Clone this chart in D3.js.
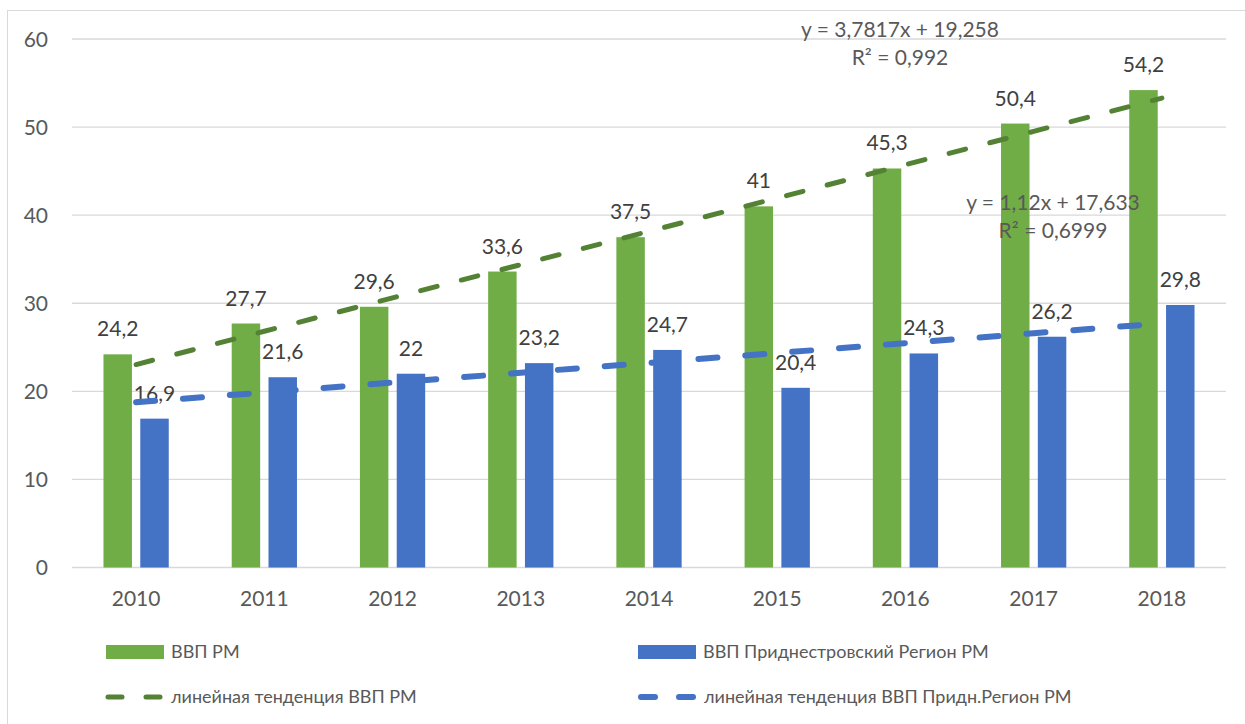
<!DOCTYPE html>
<html>
<head>
<meta charset="utf-8">
<script src="https://cdn.jsdelivr.net/npm/d3@7"></script>
<style>
  body { margin: 0; background: #fff; }
  text { font-family: Lato, "Open Sans", sans-serif; }
</style>
</head>
<body>
<script>
// data
var years = ['2010', '2011', '2012', '2013', '2014', '2015', '2016', '2017', '2018'];
var gdpRM = [24.2, 27.7, 29.6, 33.6, 37.5, 41, 45.3, 50.4, 54.2];
var gdpPMR = [16.9, 21.6, 22, 23.2, 24.7, 20.4, 24.3, 26.2, 29.8];
var yTicks = [0, 10, 20, 30, 40, 50, 60];
// trend coefficients as printed on the chart
var trendRM = {slope: 3.7817, icept: 19.258, eq: 'y = 3,7817x + 19,258', r2: 'R² = 0,992'};
var trendPMR = {slope: 1.12, icept: 17.633, eq: 'y = 1,12x + 17,633', r2: 'R² = 0,6999'};
var legendNames = ['ВВП РМ', 'ВВП Приднестровский Регион РМ',
  'линейная тенденция ВВП РМ', 'линейная тенденция ВВП Придн.Регион РМ'];

var green = '#70ad47', blue = '#4472c4', trendGreen = '#548235';
var W = 1245, H = 724;
var plotL = 72, plotR = 1226, plotT = 39, plotB = 567.5;
var numSize = 21;

var svg = d3.select('body').append('svg')
  .attr('width', W)
  .attr('height', H);

svg.append('rect')
  .attr('x', 7.5).attr('y', 10.5)
  .attr('width', W + 20).attr('height', H + 20)
  .attr('fill', 'white')
  .attr('stroke', '#d9d9d9');

var x = d3.scaleBand().domain(years).range([plotL, plotR]).padding(0);
var y = d3.scaleLinear().domain([0, 60]).range([plotB, plotT]);

var step = x.bandwidth();
var barW = step * 0.222;
var gap = step * 0.065;

// gridlines
svg.selectAll('line.grid')
  .data(yTicks)
  .enter().append('line')
  .attr('class', 'grid')
  .attr('x1', plotL).attr('x2', plotR)
  .attr('y1', function(d) { return y(d); })
  .attr('y2', function(d) { return y(d); })
  .attr('stroke', '#d9d9d9')
  .attr('stroke-width', 1.3);

// y labels
svg.selectAll('text.ytick')
  .data(yTicks)
  .enter().append('text')
  .attr('class', 'ytick')
  .attr('x', 48)
  .attr('y', function(d) { return y(d) + 7.5; })
  .attr('text-anchor', 'end')
  .attr('font-size', numSize)
  .attr('fill', '#595959')
  .text(function(d) { return d; });

// x labels
svg.selectAll('text.xtick')
  .data(years)
  .enter().append('text')
  .attr('class', 'xtick')
  .attr('x', function(d) { return x(d) + step / 2; })
  .attr('y', 606)
  .attr('text-anchor', 'middle')
  .attr('font-size', numSize)
  .attr('fill', '#595959')
  .text(function(d) { return d; });

var groupLeft = function(d) {
  return x(d) + step / 2 - barW - gap / 2;
};

// bars
var series = [
  {vals: gdpRM, color: green, off: 0},
  {vals: gdpPMR, color: blue, off: 1}
];

series.forEach(function(s) {
  svg.selectAll(null)
    .data(s.vals)
    .enter().append('rect')
    .attr('x', function(d, i) { return groupLeft(years[i]) + s.off * (barW + gap); })
    .attr('y', function(d) { return y(d); })
    .attr('width', barW)
    .attr('height', function(d) { return y(0) - y(d); })
    .attr('fill', s.color);

  svg.selectAll(null)
    .data(s.vals)
    .enter().append('text')
    .attr('x', function(d, i) { return groupLeft(years[i]) + s.off * (barW + gap) + barW / 2; })
    .attr('y', function(d) { return y(d) - 18; })
    .attr('text-anchor', 'middle')
    .attr('font-size', numSize)
    .attr('fill', '#404040')
    .text(function(d) { return String(d).replace('.', ','); });
});

// trend lines
var trendLine = function(t) {
  return d3.line()
    .x(function(d) { return x(d) + step / 2; })
    .y(function(d, i) { return y(t.slope * (i + 1) + t.icept); })(years);
};

svg.append('path')
  .attr('d', trendLine(trendRM))
  .attr('fill', 'none')
  .attr('stroke', trendGreen)
  .attr('stroke-width', 5)
  .attr('stroke-linecap', 'round')
  .attr('stroke-dasharray', '17 25');

svg.append('path')
  .attr('d', trendLine(trendPMR))
  .attr('fill', 'none')
  .attr('stroke', blue)
  .attr('stroke-width', 6)
  .attr('stroke-linecap', 'round')
  .attr('stroke-dasharray', '19 28');

// trend equations
var eqs = [
  {t: trendRM, cx: 900, y1: 37},
  {t: trendPMR, cx: 1053, y1: 210}
];
eqs.forEach(function(e) {
  svg.append('text')
    .attr('x', e.cx).attr('y', e.y1)
    .attr('text-anchor', 'middle')
    .attr('font-size', numSize)
    .attr('fill', '#595959')
    .text(e.t.eq);
  svg.append('text')
    .attr('x', e.cx).attr('y', e.y1 + 28)
    .attr('text-anchor', 'middle')
    .attr('font-size', numSize)
    .attr('fill', '#595959')
    .text(e.t.r2);
});

// legend
var legend = [
  {name: legendNames[0], kind: 'bar', color: green, x: 106, y: 652},
  {name: legendNames[1], kind: 'bar', color: blue, x: 638, y: 652},
  {name: legendNames[2], kind: 'line', color: trendGreen, x: 106, y: 697, w: 5},
  {name: legendNames[3], kind: 'line', color: blue, x: 639, y: 697, w: 6}
];

legend.forEach(function(l) {
  if (l.kind === 'bar') {
    svg.append('rect')
      .attr('x', l.x).attr('y', l.y - 7)
      .attr('width', 58).attr('height', 14)
      .attr('fill', l.color);
  } else {
    svg.append('line')
      .attr('x1', l.x + 2).attr('x2', l.x + 56)
      .attr('y1', l.y).attr('y2', l.y)
      .attr('stroke', l.color)
      .attr('stroke-width', l.w)
      .attr('stroke-linecap', 'round')
      .attr('stroke-dasharray', '14 24');
  }
  svg.append('text')
    .attr('x', l.x + 65).attr('y', l.y + 6)
    .attr('font-size', 18)
    .attr('fill', '#595959')
    .text(l.name);
});
</script>
</body>
</html>
